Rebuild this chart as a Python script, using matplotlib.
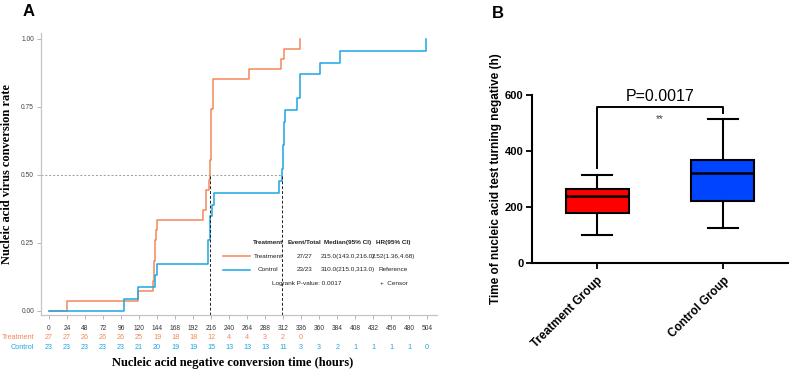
import matplotlib.pyplot as plt
import matplotlib.transforms as mtransforms
import numpy as np

# ---- panel A : Kaplan-Meier style curves ----
n_treat = 27
treat_t = [24, 118, 139, 140, 141, 143, 144, 205, 209, 213, 215, 216, 218, 266, 309, 313, 335]
treat_n = [1, 1, 1, 2, 2, 1, 1, 1, 2, 1, 2, 5, 3, 1, 1, 1, 1]

n_ctrl = 23
ctrl_t = [100, 118, 141, 144, 212, 214, 217, 220, 306, 310, 312, 313, 314, 331, 335, 361, 388, 503]
ctrl_n = [1, 1, 1, 1, 2, 2, 1, 1, 1, 1, 2, 2, 1, 1, 2, 1, 1, 1]

risk_times = list(range(0, 505, 24))
risk_treat = [27, 27, 26, 26, 26, 25, 19, 18, 18, 12, 4, 4, 3, 2, 0]
risk_ctrl = [23, 23, 23, 23, 23, 21, 20, 19, 19, 15, 13, 13, 13, 11, 3, 3, 2, 1, 1, 1, 1, 0]

median_treat = 215
median_ctrl = 310

# ---- panel B : box plot ----
groups = ["Treatment Group", "Control Group"]
q1 = [180, 222]
med = [240, 321]
q3 = [265, 369]
whislo = [99, 124]
whishi = [316, 513]

c_treat = "#F4875C"
c_ctrl = "#1BA6E6"

fig = plt.figure(figsize=(7.89, 3.72), dpi=100)

axA = fig.add_axes([41/789, 1-315/372, 396/789, 282/372])
for t, n, tot, c in [(treat_t, treat_n, n_treat, c_treat), (ctrl_t, ctrl_n, n_ctrl, c_ctrl)]:
    x = np.concatenate([[0], t])
    y = np.concatenate([[0], np.cumsum(n) / tot])
    axA.step(x, y, where="post", color=c, lw=1.1, zorder=3)

axA.plot([-10.7, median_ctrl], [0.5, 0.5], color="#9a9a9a", lw=0.7, ls=(0, (2, 2)))
for m in [median_treat, median_ctrl]:
    axA.plot([m, m], [-0.015, 0.5], color="#222222", lw=0.7, ls=(0, (3, 2)), zorder=4)

axA.set_xlim(-10.7, 517)
axA.set_ylim(-0.015, 1.022)
axA.set_xticks(risk_times)
axA.set_xticklabels([str(v) for v in risk_times], fontsize=4.8, family="Liberation Sans", color="#333333")
axA.set_yticks([0, 0.25, 0.5, 0.75, 1.0])
axA.set_yticklabels(["0.00", "0.25", "0.50", "0.75", "1.00"], fontsize=4.8, family="Liberation Sans", color="#444444")
axA.tick_params(axis="both", length=3, width=0.6, color="#aaaaaa", pad=2)
axA.tick_params(axis="x", pad=4)
for s in ["top", "right"]:
    axA.spines[s].set_visible(False)
for s in ["left", "bottom"]:
    axA.spines[s].set_color("#c4c4c4")
    axA.spines[s].set_linewidth(0.9)

trans = mtransforms.blended_transform_factory(axA.transData, axA.transAxes)
axA.text(-20, -0.08, "Treatment", transform=trans, ha="right", va="center", fontsize=5.2,
         family="Liberation Sans", color=c_treat, clip_on=False)
axA.text(-20, -0.116, "Control", transform=trans, ha="right", va="center", fontsize=5.2,
         family="Liberation Sans", color=c_ctrl, clip_on=False)
for i, v in enumerate(risk_treat):
    axA.text(risk_times[i], -0.08, str(v), transform=trans, ha="center", va="center",
             fontsize=5.2, family="Liberation Sans", color=c_treat, clip_on=False)
for i, v in enumerate(risk_ctrl):
    axA.text(risk_times[i], -0.116, str(v), transform=trans, ha="center", va="center",
             fontsize=5.2, family="Liberation Sans", color=c_ctrl, clip_on=False)

axA.text(244, -0.17, "Nucleic acid negative conversion time (hours)", transform=trans,
         ha="center", va="center", fontsize=9, family="Liberation Serif", weight="bold")
axA.set_ylabel("Nucleic acid virus conversion rate", fontsize=9, family="Liberation Serif",
               weight="bold", labelpad=6)

# legend table inside panel A
lf = dict(fontsize=4.6, family="Liberation Sans", color="#222222", va="center", ha="center")
axA.text(292, 0.25, "Treatment", weight="bold", **lf)
axA.text(341, 0.25, "Event/Total", weight="bold", **lf)
axA.text(398, 0.25, "Median(95% CI)", weight="bold", **lf)
axA.text(459, 0.25, "HR(95% CI)", weight="bold", **lf)
axA.plot([232, 268], [0.202, 0.202], color=c_treat, lw=1.1)
axA.plot([232, 268], [0.151, 0.151], color=c_ctrl, lw=1.1)
axA.text(292, 0.199, "Treatment", **lf)
axA.text(341, 0.199, "27/27", **lf)
axA.text(398, 0.199, "215.0(143.0,216.0)", **lf)
axA.text(459, 0.199, "2.52(1.36,4.68)", **lf)
axA.text(292, 0.151, "Control", **lf)
axA.text(341, 0.151, "23/23", **lf)
axA.text(398, 0.151, "310.0(215.0,313.0)", **lf)
axA.text(459, 0.151, "Reference", **lf)
axA.text(343, 0.099, "Logrank P-value: 0.0017", **lf)
axA.text(459, 0.099, "+  Censor", **lf)

fig.text(23/789, 1-12/372, "A", fontsize=12, weight="bold", family="Liberation Sans", va="center")

# ---- panel B ----
axB = fig.add_axes([532/789, 1-263/372, 256/789, 168/372])
stats = []
for i in range(len(groups)):
    stats.append(dict(q1=q1[i], med=med[i], q3=q3[i], whislo=whislo[i], whishi=whishi[i], fliers=[]))
bp = axB.bxp(stats, positions=[0, 1], widths=0.5, patch_artist=True, capwidths=0.24,
             boxprops=dict(linewidth=1.5, edgecolor="black"),
             medianprops=dict(color="black", linewidth=1.8),
             whiskerprops=dict(color="black", linewidth=1.5),
             capprops=dict(color="black", linewidth=1.5))
for patch, c in zip(bp["boxes"], ["#FF0000", "#0044FF"]):
    patch.set_facecolor(c)

axB.set_xlim(-0.516, 1.516)
axB.set_ylim(0, 600)
axB.set_yticks([0, 200, 400, 600])
axB.set_yticklabels(["0", "200", "400", "600"], fontsize=8, weight="bold", family="Liberation Sans")
axB.set_xticks([0, 1])
axB.set_xticklabels(groups, rotation=45, ha="right", rotation_mode="anchor", fontsize=8.5,
                    weight="bold", family="Liberation Sans")
axB.tick_params(axis="both", length=4, width=1.3, pad=2)
axB.tick_params(axis="x", pad=4)
for s in ["top", "right"]:
    axB.spines[s].set_visible(False)
for s in ["left", "bottom"]:
    axB.spines[s].set_linewidth(1.5)
axB.set_ylabel("Time of nucleic acid test turning negative (h)", fontsize=8.5, weight="bold",
               family="Liberation Sans", labelpad=2)

axB.plot([0, 0, 1, 1], [339, 556, 556, 536], color="black", lw=1.4, clip_on=False)
axB.text(0.5, 594, "P=0.0017", ha="center", va="center", fontsize=11.5, family="Liberation Sans")
axB.text(0.5, 515, "**", ha="center", va="center", fontsize=7, color="#444444", family="Liberation Sans")

fig.text(492/789, 1-14/372, "B", fontsize=12, weight="bold", family="Liberation Sans", va="center")

fig.savefig("out.png", dpi=100)
